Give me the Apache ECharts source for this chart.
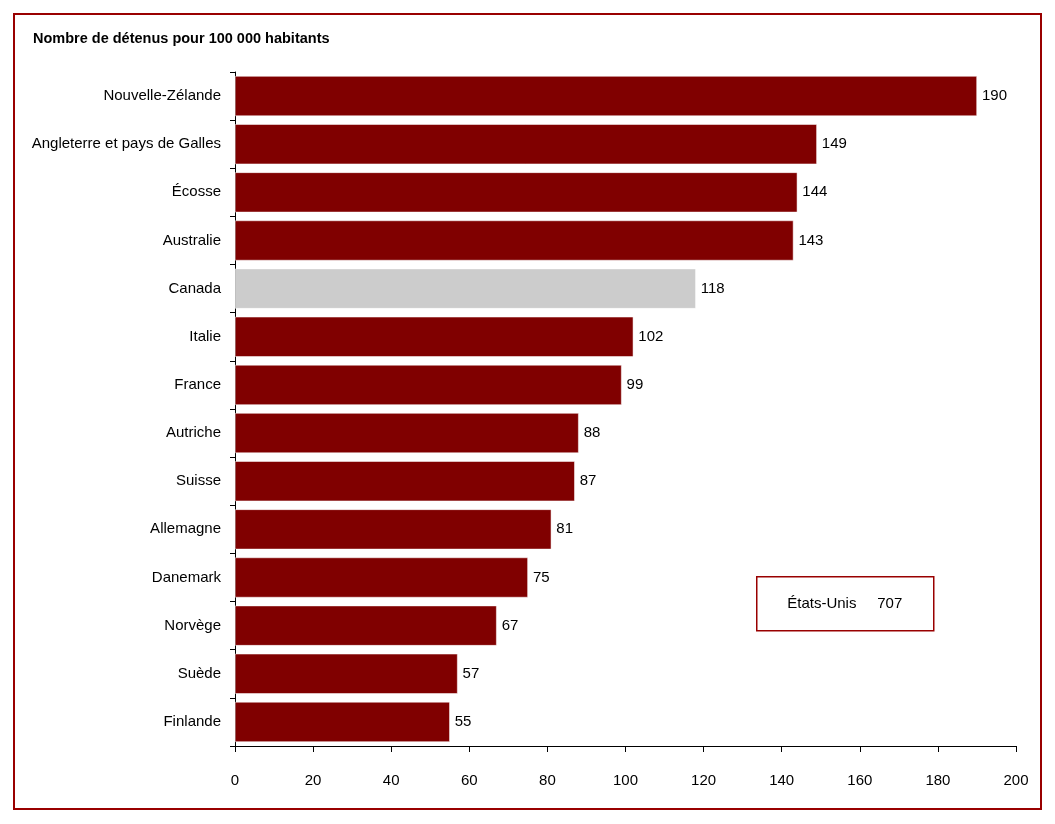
<!DOCTYPE html>
<html>
<head>
<meta charset="utf-8">
<script src="https://cdn.jsdelivr.net/npm/echarts@6/dist/echarts.min.js"></script>
<style>
  html, body { margin: 0; padding: 0; background: #fff; }
  #frame {
    position: absolute; left: 13px; top: 13px;
    width: 1025px; height: 793px;
    border: 2px solid #990000;
  }
  #chart { position: absolute; left: 0; top: 0; width: 1055px; height: 824px; }
</style>
</head>
<body>
<div id="frame"></div>
<div id="chart"></div>
<script>
// pays et taux (détenus pour 100 000 habitants)
const pays = ['Nouvelle-Zélande', 'Angleterre et pays de Galles', 'Écosse', 'Australie', 'Canada',
  'Italie', 'France', 'Autriche', 'Suisse', 'Allemagne', 'Danemark', 'Norvège', 'Suède', 'Finlande'];
const taux = [190, 149, 144, 143, 118, 102, 99, 88, 87, 81, 75, 67, 57, 55];
const etatsUnis = 707;
const xTicks = [0, 20, 40, 60, 80, 100, 120, 140, 160, 180, 200];

const ROUGE = '#800000';
const GRIS = '#cccccc';
const FONT = '"Liberation Sans Narrow", "Arial Narrow", "Liberation Sans", Arial, sans-serif';

const chart = echarts.init(document.getElementById('chart'));

chart.setOption({
  animation: false,
  textStyle: { fontFamily: FONT, color: '#000' },
  title: {
    text: 'Nombre de détenus pour 100 000 habitants',
    left: 33, top: 31, padding: 0,
    textStyle: { fontFamily: FONT, fontSize: 14.5, fontWeight: 'bold', color: '#000' }
  },
  grid: { left: 235, right: 39, top: 72, bottom: 78 },
  xAxis: {
    type: 'value',
    min: xTicks[0], max: xTicks[xTicks.length - 1], interval: 20,
    axisLine: { show: true, lineStyle: { color: '#000', width: 1 } },
    axisTick: { show: true, length: 6, lineStyle: { color: '#000' } },
    axisLabel: { fontFamily: FONT, fontSize: 15, color: '#000', margin: 27 },
    splitLine: { show: false }
  },
  yAxis: {
    type: 'category',
    data: pays,
    inverse: true,
    axisLine: { show: true, lineStyle: { color: '#000', width: 1 } },
    axisTick: { show: true, length: 5, lineStyle: { color: '#000' } },
    axisLabel: { fontFamily: FONT, fontSize: 15, color: '#000', margin: 14 }
  },
  series: [{
    type: 'bar',
    barCategoryGap: '17%',
    data: taux.map((v, i) => ({
      value: v,
      itemStyle: { color: pays[i] === 'Canada' ? GRIS : ROUGE }
    })),
    itemStyle: { borderColor: '#fff', borderWidth: 0.5 },
    label: {
      show: true, position: 'right', distance: 5,
      fontFamily: FONT, fontSize: 15, color: '#000'
    }
  }],
  graphic: [{
    type: 'group',
    left: 756, top: 576,
    children: [{
      type: 'rect',
      shape: { x: 0, y: 0, width: 177, height: 54 },
      style: { fill: '#fff', stroke: '#990000', lineWidth: 1.5 }
    }, {
      type: 'text',
      x: 88, y: 27,
      style: {
        text: 'États-Unis     ' + etatsUnis,
        fontFamily: FONT, fontSize: 15, fill: '#000',
        align: 'center', verticalAlign: 'middle'
      }
    }]
  }]
});
</script>
</body>
</html>
